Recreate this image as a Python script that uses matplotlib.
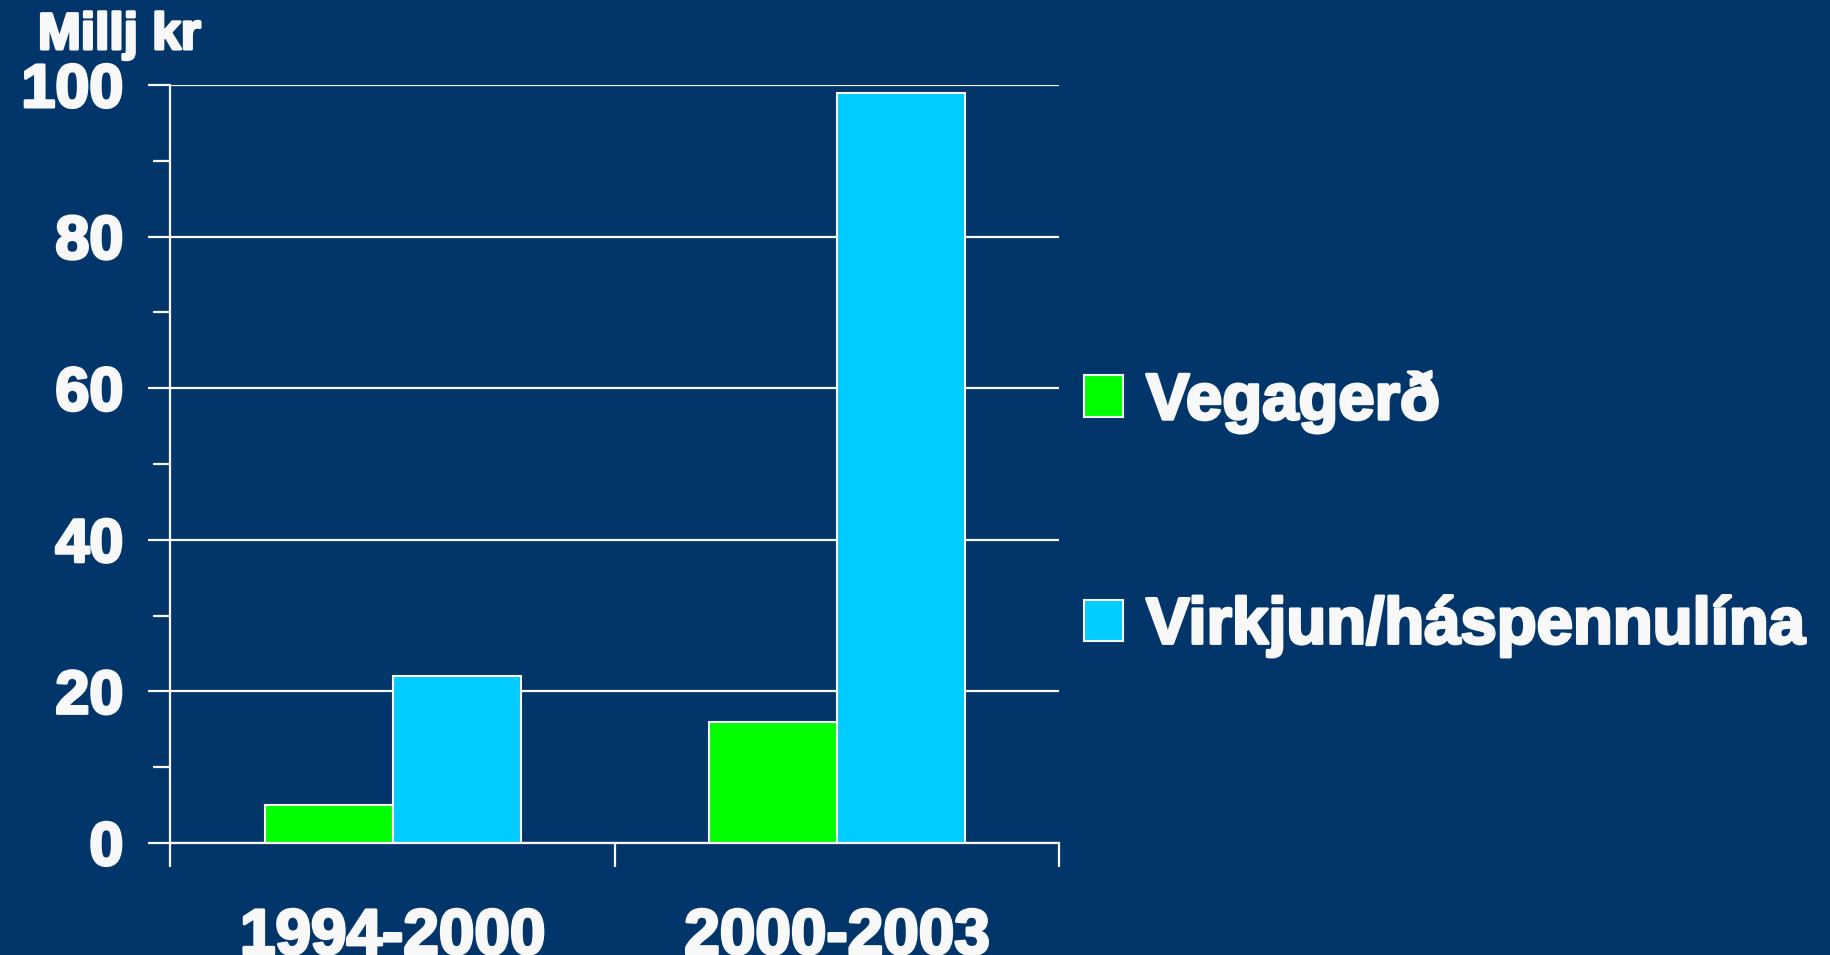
import matplotlib
matplotlib.use("Agg")
import matplotlib.pyplot as plt
import matplotlib.patheffects as pe
from matplotlib.ticker import MultipleLocator, FixedLocator
from matplotlib.patches import Patch

# data
periods = ["1994-2000", "2000-2003"]
vegagerd = [5, 16]
virkjun = [22, 99]
series_names = ["Vegagerð", "Virkjun/háspennulína"]
series_colors = ["#00FF00", "#00CCFF"]
y_ticks = [0, 20, 40, 60, 80, 100]

bg = "#02356A"
fg = "#F8F8F8"

plt.rcParams['font.family'] = ['Liberation Sans', 'DejaVu Sans']
plt.rcParams['font.weight'] = 'bold'

# thicker strokes, the original font is heavier than Liberation Sans Bold
heavy = [pe.withStroke(linewidth=2.2, foreground=fg)]

fig = plt.figure(figsize=(18.31, 9.55), dpi=100, facecolor=bg)
ax = fig.add_axes([0.0931, 0.1173, 0.4853, 0.7937], facecolor=bg)

x = list(range(len(periods)))
w = 0.288
ax.bar([i - w / 2 for i in x], vegagerd, width=w, color=series_colors[0],
       edgecolor=fg, linewidth=1.5, zorder=3)
ax.bar([i + w / 2 for i in x], virkjun, width=w, color=series_colors[1],
       edgecolor=fg, linewidth=1.5, zorder=3)

ax.set_xlim(-0.5, len(periods) - 0.5)
ax.set_ylim(0, 100)

# y axis
ax.set_yticks(y_ticks)
ax.yaxis.set_minor_locator(MultipleLocator(10))
ax.yaxis.grid(True, which='major', color=fg, linewidth=1.6, zorder=1)
ax.tick_params(axis='y', which='major', direction='out', length=16, width=1.6,
               colors=fg, labelsize=44, pad=18)
ax.tick_params(axis='y', which='minor', direction='out', length=12, width=1.6,
               colors=fg)

# x axis: labels at centres, tick marks at boundaries
ax.set_xticks(x)
ax.set_xticklabels(periods)
ax.xaxis.set_minor_locator(FixedLocator([-0.5, 0.5, 1.5]))
ax.tick_params(axis='x', which='major', length=0, colors=fg, labelsize=46, pad=46)
ax.tick_params(axis='x', which='minor', direction='out', length=17, width=1.6,
               colors=fg)

for lab in ax.get_xticklabels() + ax.get_yticklabels():
    lab.set_path_effects(heavy)

for s in ['top', 'right']:
    ax.spines[s].set_visible(False)
for s in ['left', 'bottom']:
    ax.spines[s].set_color(fg)
    ax.spines[s].set_linewidth(1.6)
    ax.spines[s].set_zorder(4)

fig.text(38 / 1831, 1 - 49 / 955, "Millj kr", color=fg, fontsize=37,
         fontweight='bold', ha='left', va='baseline', path_effects=heavy)

handles = [Patch(facecolor=c, edgecolor=fg, linewidth=1.5) for c in series_colors]
leg = fig.legend(handles, series_names, loc='center left',
                 bbox_to_anchor=(1084 / 1831, 1 - 514 / 955), frameon=False,
                 fontsize=47, labelcolor=fg, handlelength=0.6, handleheight=0.6,
                 handletextpad=0.35, labelspacing=2.5, borderpad=0,
                 borderaxespad=0)
for t in leg.get_texts():
    t.set_path_effects(heavy)

fig.savefig("out.png", dpi=100, facecolor=bg)
